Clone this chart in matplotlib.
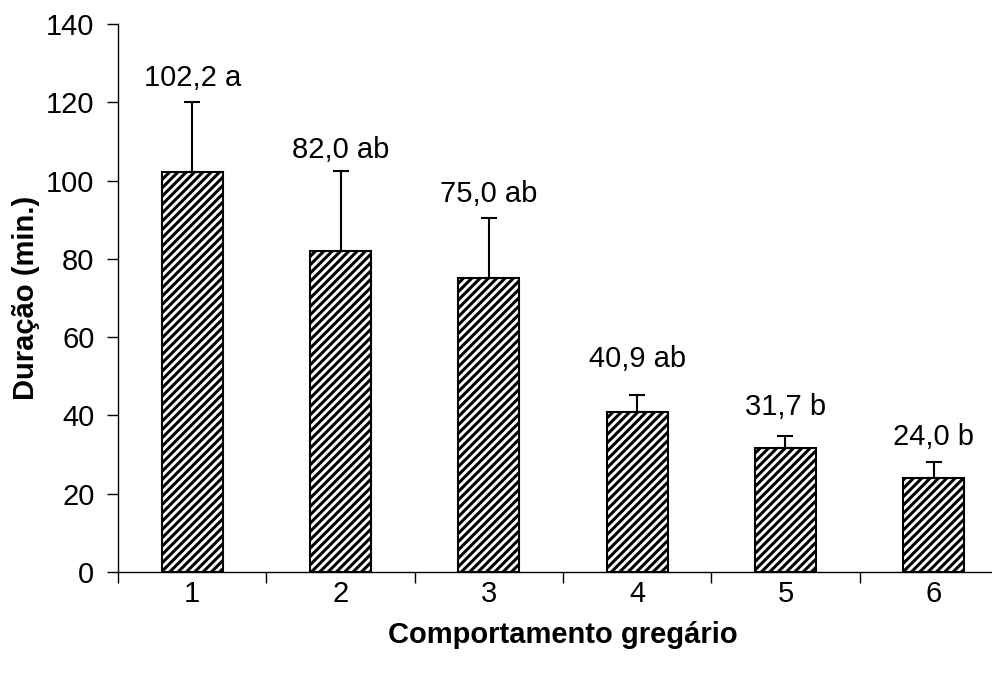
import numpy as np
import matplotlib
matplotlib.use('Agg')
import matplotlib.pyplot as plt

plt.rcParams['font.family'] = ['Liberation Sans', 'DejaVu Sans']
plt.rcParams['hatch.linewidth'] = 2.2

# data
categories = ['1', '2', '3', '4', '5', '6']
means = [102.2, 82.0, 75.0, 40.9, 31.7, 24.0]
err_top = [120.0, 102.5, 90.5, 45.2, 34.7, 28.2]
letters = ['a', 'ab', 'ab', 'ab', 'b', 'b']

# label gap above the error cap, in points
label_gap = [11.5, 9.5, 11.5, 20, 15, 12]

errors = np.array(err_top) - np.array(means)
x = np.arange(len(categories))
fs = 21

fig = plt.figure(figsize=(9.92, 6.75), dpi=100)
ax = fig.add_axes([118 / 992, 103 / 675, 890 / 992, 548 / 675])

ax.bar(x, means, width=0.41, color='white', edgecolor='black',
       linewidth=1.5, hatch='////', zorder=2)
ax.errorbar(x, means, yerr=[np.zeros(len(x)), errors], fmt='none',
            ecolor='black', elinewidth=1.5, capsize=6, capthick=1.5, zorder=3)

for xi, m, top, let, gap in zip(x, means, err_top, letters, label_gap):
    txt = f'{m:.1f}'.replace('.', ',') + ' ' + let
    ax.annotate(txt, (xi, top), xytext=(0, gap), textcoords='offset points',
                ha='center', va='baseline', fontsize=fs)

ax.set_xlim(-0.5, len(x) - 0.5)
ax.set_ylim(0, 140)
ax.set_yticks(range(0, 141, 20))
ax.set_xticks(x)
ax.set_xticklabels(categories)
ax.set_xticks(np.arange(-0.5, len(x)), minor=True)
ax.tick_params(axis='x', which='major', length=0, pad=6, labelsize=fs)
ax.tick_params(axis='x', which='minor', length=8, width=1, direction='out')
ax.tick_params(axis='y', length=8, width=1, direction='out', pad=9, labelsize=fs)

for s in ['top', 'right']:
    ax.spines[s].set_visible(False)
ax.spines['left'].set_linewidth(1)
ax.spines['bottom'].set_linewidth(1)

ax.set_xlabel('Comportamento gregário', fontsize=fs, fontweight='bold', labelpad=9)
ax.set_ylabel('Duração (min.)', fontsize=fs, fontweight='bold', labelpad=4)

fig.savefig('out.png', dpi=100)
